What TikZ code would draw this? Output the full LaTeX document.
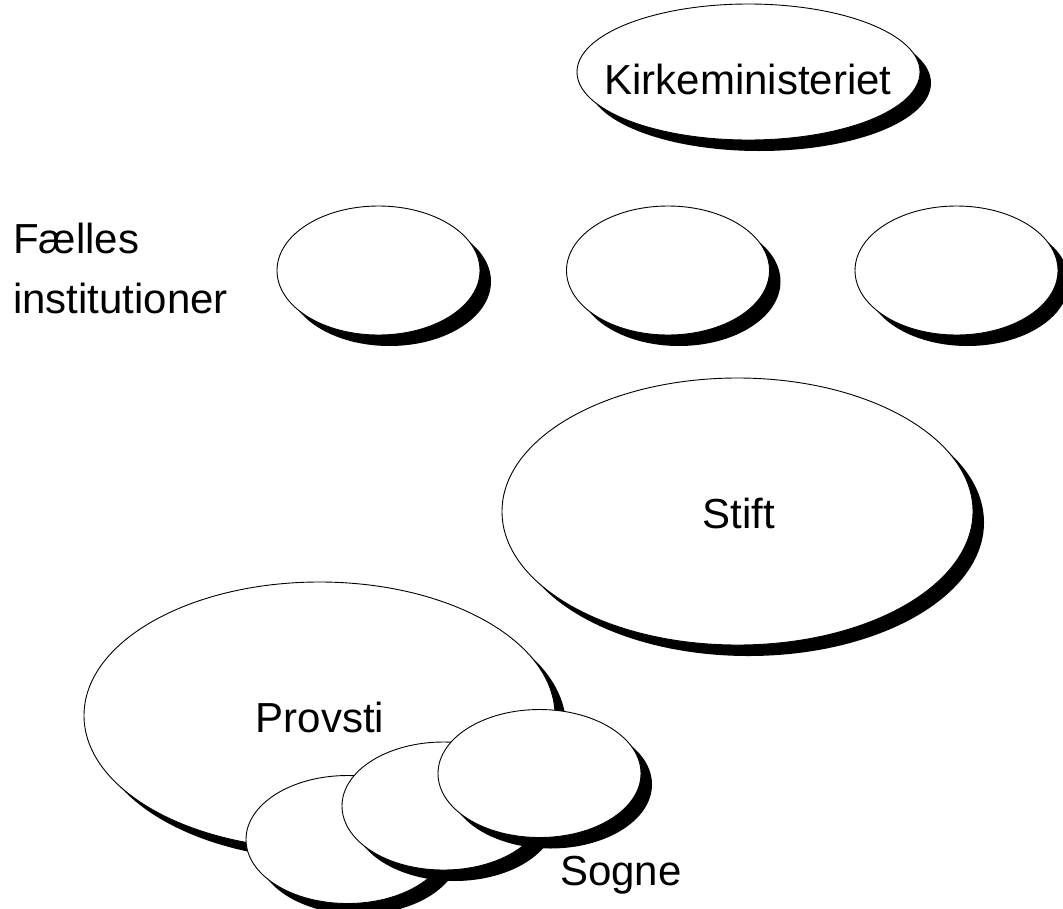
\documentclass[tikz,border=0pt]{standalone}
\usepackage{fontspec}
\setmainfont{Liberation Sans}
\usetikzlibrary{shapes.geometric,shadows}
\begin{document}
\begin{tikzpicture}[x=1pt,y=-1pt,
  oval/.style={ellipse, draw=black, fill=white, line width=0.9pt, inner sep=0pt,
    drop shadow={shadow xshift=11pt, shadow yshift=-11pt, fill=black, opacity=1}},
  small/.style={oval, minimum width=203pt, minimum height=128pt},
  big/.style={oval, minimum width=471pt, minimum height=267pt},
  lbl/.style={inner sep=0pt, font=\fontsize{42}{50}\selectfont}
]
\useasboundingbox (0,0) rectangle (1063,908);

% top
\node[oval, minimum width=343pt, minimum height=136pt] (kirke) at (748.5,72) {};
\node[lbl, anchor=base] (kirketxt) at (748,94) {Kirkeministeriet};

% common institutions
\node[lbl, anchor=base west] (faelles) at (13,253) {Fælles};
\node[lbl, anchor=base west] (institutioner) at (13,313) {institutioner};
\node[small, minimum height=129pt] (f1) at (378.5,270.5) {};
\node[small, minimum height=129pt] (f2) at (668,270.5) {};
\node[small, minimum height=129pt] (f3) at (956.5,270.5) {};

% diocese
\node[big] (stift) at (737.5,511.5) {};
\node[lbl, anchor=base] (stifttxt) at (739,528) {Stift};

% deanery
\node[big] (provsti) at (319.5,715.5) {};
\node[lbl, anchor=base] (provstitxt) at (320,732) {Provsti};

% parishes
\node[small] (s1) at (347.5,839.5) {};
\node[small] (s2) at (443.5,806) {};
\node[small] (s3) at (539.5,773.5) {};
\node[lbl, anchor=base west] (sogne) at (560,885) {Sogne};
\end{tikzpicture}
\end{document}
